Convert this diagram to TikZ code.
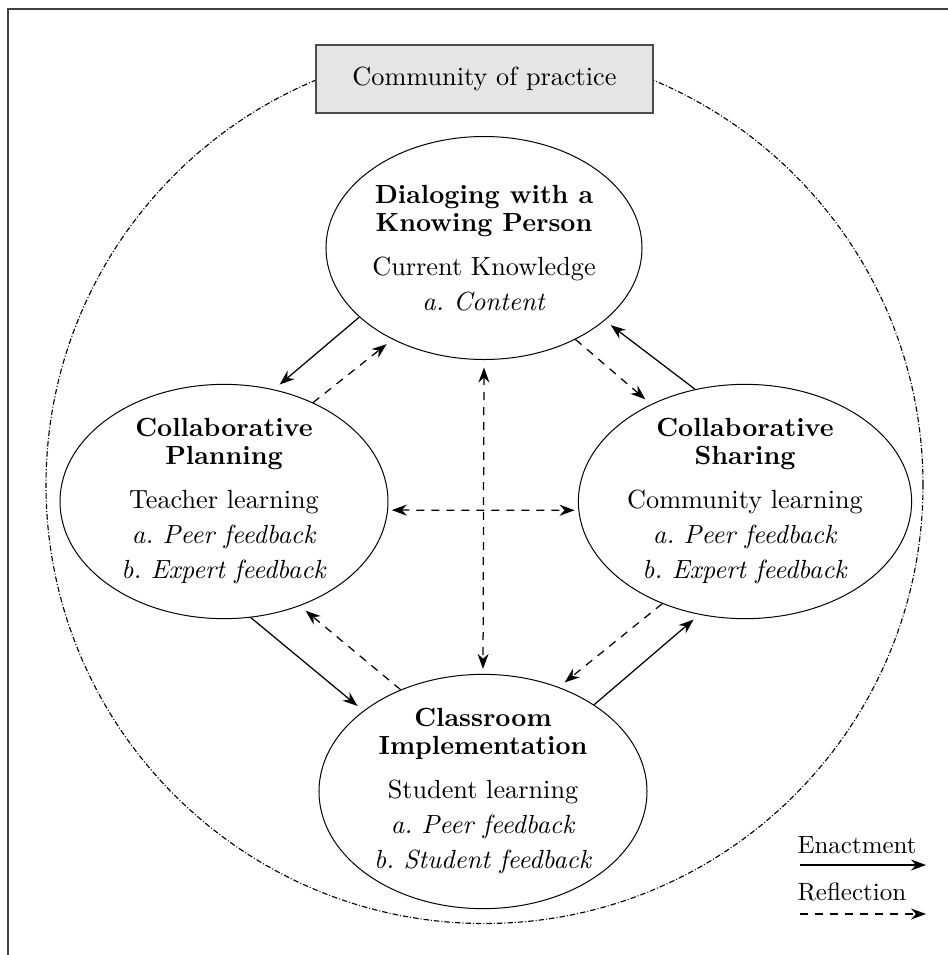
\documentclass[tikz,border=0pt]{standalone}
\usetikzlibrary{positioning,shapes.geometric,arrows.meta}
\frenchspacing

\begin{document}
\begin{tikzpicture}
    [x=0.4pt, y=-0.4pt, >={Stealth[length=6pt,width=4.4pt]},
      every node/.style={align=center, font=\fontsize{10.5}{11.2}\selectfont},
      stage/.style={ellipse, draw, line width=0.4pt, inner sep=0pt,
        minimum width=131.2pt, minimum height=93.2pt},
      enact/.style={->, line width=0.5pt},
      reflect/.style={->, line width=0.5pt, dash pattern=on 3.2pt off 2.8pt},
      gap/.style={shorten >=3pt},
      legend/.style={anchor=base west, inner sep=0pt,
        font=\fontsize{10}{11}\selectfont}]

    \useasboundingbox (0,0) rectangle (948,955);
    \draw[black!75, line width=0.8pt] (8,955) -- (8,9) -- (948,9);

    % community circle
    \draw[line width=0.45pt, dash pattern=on 2.2pt off 0.8pt on 0.4pt off 0.8pt]
      (484.5,485) circle [radius=175.4pt];
    \node (cop) [draw=black!70, fill=black!10, line width=0.6pt,
      minimum width=134.8pt, minimum height=27.2pt] at (484.5,79)
    {Community of practice};

    \node (dlg) [stage, minimum width=126.4pt, minimum height=89.2pt] at (484,248)
    {\textbf{Dialoging with a}\\
      \textbf{Knowing Person}\\[6.4pt]
      Current Knowledge\\[2.8pt]
      \textit{a. Content}
    };
    \node (plan) [stage] at (224,501.5)
    {\textbf{Collaborative}\\
      \textbf{Planning}\\[6.4pt]
      Teacher learning\\[2.8pt]
      \textit{a. Peer feedback}\\[2.8pt]
      \textit{b. Expert feedback}
    };
    \node (share) [stage] at (745,501.5)
    {\textbf{Collaborative}\\
      \textbf{Sharing}\\[6.4pt]
      Community learning\\[2.8pt]
      \textit{a. Peer feedback}\\[2.8pt]
      \textit{b. Expert feedback}
    };
    \node (impl) [stage] at (483,791.5)
    {\textbf{Classroom}\\
      \textbf{Implementation}\\[6.4pt]
      Student learning\\[2.8pt]
      \textit{a. Peer feedback}\\[2.8pt]
      \textit{b. Student feedback}
    };

    \draw[enact, gap] (dlg.209) -- (plan.66);
    \draw[reflect, gap] (plan.48) -- (dlg.225);
    \draw[reflect, gap] (dlg.315) -- (share.134);
    \draw[enact, gap] (share.114) -- (dlg.329);
    \draw[reflect, <->, shorten <=1.5pt, shorten >=1.5pt] (plan.-3) -- (share.183);
    \draw[reflect, <->, shorten <=3pt, shorten >=2pt] (dlg.south) -- (impl.north);
    \draw[enact, gap] (plan.283) -- (impl.146);
    \draw[reflect, gap] (impl.129) -- (plan.306);
    \draw[reflect, gap] (share.231) -- (impl.54);
    \draw[enact, gap] (impl.38) -- (share.248);

    % legend
    \node (enactlbl) [legend] at (797,853) {Enactment};
    \coordinate (ea) at (800,865);
    \coordinate (eb) at (926,865);
    \draw[enact] (ea) -- (eb);
    \node (refllbl) [legend] at (797,900) {Reflection};
    \coordinate (ra) at (800,914);
    \coordinate (rb) at (926,914);
    \draw[reflect] (ra) -- (rb);
  \end{tikzpicture}
\end{document}
